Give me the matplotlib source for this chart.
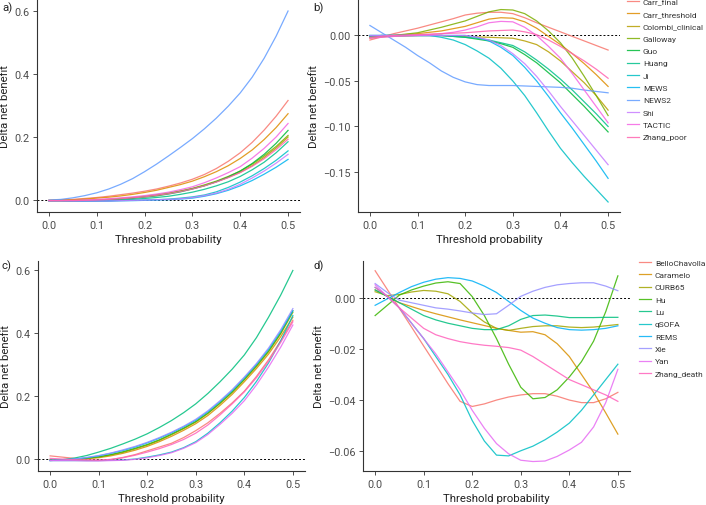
import matplotlib
matplotlib.use("Agg")
import matplotlib.pyplot as plt
from matplotlib.lines import Line2D
from matplotlib import font_manager

plt.rcParams['font.family'] = ['Roboto', 'DejaVu Sans']

thresholds = [0.0, 0.025, 0.05, 0.075, 0.1, 0.125, 0.15, 0.175, 0.2, 0.225, 0.25,
              0.275, 0.3, 0.325, 0.35, 0.375, 0.4, 0.425, 0.45, 0.475, 0.5]

# ---------- panels a / b (12 models) ----------
models_ab = ["Carr_final", "Carr_threshold", "Colombi_clinical", "Galloway", "Guo", "Huang",
             "Ji", "MEWS", "NEWS2", "Shi", "TACTIC", "Zhang_poor"]
colors_ab = ["#F8766D", "#DE8C00", "#B79F00", "#7CAE00", "#00BA38", "#00C08B",
             "#00BFC4", "#00B4F0", "#619CFF", "#C77CFF", "#F564E3", "#FF64B0"]

a_Carr_final       = [0, .001, .002, .005, .008, .012, .017, .022, .028, .035, .044, .054, .066, .081, .100, .123, .150, .183, .222, .266, .316]
a_Carr_threshold   = [-.001, 0, .001, .003, .006, .009, .013, .018, .024, .031, .040, .049, .060, .074, .090, .109, .132, .159, .192, .230, .274]
a_Colombi_clinical = [-.002, -.002, -.002, -.001, 0, .002, .004, .007, .011, .015, .021, .028, .036, .046, .058, .072, .088, .109, .135, .165, .200]
a_Galloway         = [-.002, -.002, -.002, -.001, 0, .002, .005, .008, .012, .017, .022, .029, .037, .048, .060, .075, .092, .114, .140, .170, .205]
a_Guo              = [-.002, -.002, -.003, -.003, -.002, 0, .002, .005, .009, .013, .019, .026, .035, .045, .058, .073, .092, .116, .145, .180, .221]
a_Huang            = [-.002, -.002, -.003, -.003, -.003, -.002, 0, .002, .005, .008, .012, .018, .025, .034, .045, .058, .075, .096, .120, .150, .185]
a_Ji               = [-.002, -.002, -.003, -.003, -.003, -.003, -.002, -.001, 0, .001, .003, .006, .010, .016, .026, .040, .057, .077, .100, .126, .156]
a_MEWS             = [-.002, -.002, -.003, -.003, -.003, -.003, -.002, -.002, -.001, 0, .001, .003, .006, .012, .020, .031, .045, .062, .082, .104, .129]
a_NEWS2            = [0, .002, .007, .014, .023, .035, .050, .068, .090, .114, .140, .167, .195, .226, .260, .298, .340, .390, .450, .520, .600]
a_Shi              = [-.002, -.002, -.003, -.003, -.003, -.003, -.002, -.001, 0, .001, .002, .004, .008, .014, .022, .034, .050, .070, .092, .117, .145]
a_TACTIC           = [-.002, -.002, -.001, 0, .002, .004, .007, .010, .014, .019, .025, .033, .042, .055, .070, .087, .106, .133, .164, .200, .243]
a_Zhang_poor       = [-.002, -.002, -.002, -.001, 0, .002, .004, .007, .010, .015, .020, .027, .035, .045, .057, .071, .087, .107, .131, .160, .193]

b_Carr_final       = [-.005, -.0015, .002, .005, .008, .0115, .015, .0185, .0225, .0245, .0255, .0255, .024, .0195, .014, .009, .004, -.001, -.006, -.011, -.016]
b_Carr_threshold   = [-.003, -.0015, 0, .001, .002, .0035, .005, .0075, .010, .014, .018, .0195, .019, .015, .008, -.001, -.010, -.020, -.031, -.043, -.056]
b_Colombi_clinical = [-.002, -.0015, -.001, -.0005, 0, 0, 0, -.0005, -.001, -.0015, -.002, -.0025, -.003, -.006, -.010, -.018, -.028, -.040, -.052, -.066, -.082]
b_Galloway         = [-.002, -.001, 0, .0015, .003, .006, .009, .0125, .016, .021, .026, .0285, .028, .024, .016, .005, -.008, -.025, -.045, -.066, -.088]
b_Guo              = [-.001, 0, 0, 0, 0, 0, 0, -.001, -.002, -.004, -.006, -.009, -.013, -.021, -.030, -.041, -.052, -.065, -.078, -.092, -.106]
b_Huang            = [-.001, 0, 0, 0, 0, 0, 0, -.001, -.002, -.003, -.005, -.008, -.011, -.018, -.027, -.037, -.048, -.060, -.073, -.086, -.100]
b_Ji               = [0, 0, 0, 0, 0, 0, -.002, -.005, -.010, -.017, -.025, -.036, -.050, -.066, -.085, -.105, -.124, -.140, -.155, -.169, -.183]
b_MEWS             = [0, 0, 0, 0, 0, 0, 0, 0, 0, -.002, -.006, -.013, -.022, -.035, -.050, -.067, -.085, -.102, -.120, -.138, -.157]
b_NEWS2            = [.011, .003, -.005, -.013, -.022, -.030, -.039, -.046, -.051, -.054, -.055, -.055, -.055, -.0555, -.056, -.0565, -.057, -.058, -.060, -.0615, -.063]
b_Shi              = [0, 0, 0, 0, 0, 0, 0, 0, 0, -.002, -.005, -.011, -.020, -.031, -.045, -.061, -.078, -.094, -.110, -.126, -.142]
b_TACTIC           = [-.003, -.002, -.001, -.0005, 0, .001, .002, .0035, .006, .0095, .014, .0155, .015, .009, 0, -.012, -.025, -.042, -.060, -.078, -.096]
b_Zhang_poor       = [-.002, -.001, 0, .0005, .001, .0015, .002, .0025, .003, .004, .005, .0055, .006, .004, .001, -.005, -.012, -.020, -.028, -.037, -.047]

data_a = [a_Carr_final, a_Carr_threshold, a_Colombi_clinical, a_Galloway, a_Guo, a_Huang,
          a_Ji, a_MEWS, a_NEWS2, a_Shi, a_TACTIC, a_Zhang_poor]
data_b = [b_Carr_final, b_Carr_threshold, b_Colombi_clinical, b_Galloway, b_Guo, b_Huang,
          b_Ji, b_MEWS, b_NEWS2, b_Shi, b_TACTIC, b_Zhang_poor]

# ---------- panels c / d (10 models) ----------
models_cd = ["BelloChavolla", "Caramelo", "CURB65", "Hu", "Lu", "qSOFA", "REMS", "Xie", "Yan", "Zhang_death"]
colors_cd = ["#F8766D", "#D89000", "#A3A500", "#39B600", "#00BF7D",
             "#00BFC4", "#00B0F6", "#9590FF", "#E76BF3", "#FF62BC"]

c_BelloChavolla = [.010, .006, .002, -.002, -.004, -.002, .005, .014, .026, .038, .050, .068, .090, .115, .145, .178, .215, .262, .315, .375, .440]
c_Caramelo      = [-.003, -.003, -.002, .001, .004, .010, .018, .028, .040, .055, .072, .091, .112, .138, .170, .205, .245, .287, .333, .388, .450]
c_CURB65        = [-.003, -.002, -.001, .002, .006, .013, .021, .032, .044, .059, .077, .096, .117, .144, .176, .211, .251, .293, .340, .397, .465]
c_Hu            = [-.004, -.003, -.001, .003, .007, .014, .023, .034, .046, .061, .079, .098, .119, .146, .178, .213, .253, .296, .343, .400, .470]
c_Lu            = [-.005, -.002, .003, .011, .022, .034, .048, .063, .080, .100, .122, .147, .175, .208, .245, .285, .330, .385, .450, .520, .598]
c_qSOFA         = [-.005, -.005, -.005, -.005, -.005, -.004, -.003, .000, .006, .013, .022, .036, .055, .082, .115, .152, .195, .246, .305, .375, .455]
c_REMS          = [-.004, -.003, 0, .004, .010, .018, .027, .038, .051, .066, .083, .102, .123, .150, .182, .217, .257, .300, .348, .405, .470]
c_Xie           = [-.004, -.003, 0, .005, .011, .019, .029, .040, .053, .068, .085, .104, .126, .153, .185, .220, .260, .303, .352, .410, .477]
c_Yan           = [-.005, -.005, -.005, -.006, -.006, -.005, -.004, -.001, .004, .011, .020, .034, .052, .078, .110, .145, .185, .235, .292, .355, .425]
c_Zhang_death   = [.002, 0, -.002, -.003, -.004, -.001, .004, .012, .022, .033, .046, .062, .082, .108, .140, .175, .213, .258, .310, .370, .435]

d_BelloChavolla = [.0105, .0032, -.0042, -.0115, -.0189, -.0262, -.0336, -.0405, -.0425, -.0415, -.0400, -.0388, -.0380, -.0375, -.0375, -.0385, -.0400, -.0410, -.0410, -.0395, -.0370]
d_Caramelo      = [.003, .0005, -.002, -.0035, -.005, -.0063, -.0075, -.0087, -.0098, -.0109, -.012, -.0128, -.0135, -.0133, -.0145, -.018, -.023, -.030, -.037, -.045, -.0533]
d_CURB65        = [.0023, .0008, .0012, .0022, .0028, .0025, .0015, -.0015, -.006, -.0095, -.012, -.0128, -.012, -.0113, -.011, -.011, -.0115, -.0117, -.0115, -.011, -.0105]
d_Hu            = [-.007, -.003, .001, .003, .0045, .0057, .0062, .0055, .0004, -.007, -.016, -.026, -.035, -.0395, -.039, -.036, -.031, -.025, -.017, -.0055, .0085]
d_Lu            = [.003, .0005, -.002, -.0045, -.007, -.0087, -.010, -.011, -.012, -.0125, -.0125, -.011, -.0085, -.007, -.0068, -.0072, -.0078, -.0078, -.0078, -.0077, -.0077]
d_qSOFA         = [.004, .0005, -.004, -.010, -.016, -.023, -.030, -.038, -.048, -.056, -.0615, -.0618, -.0598, -.058, -.0555, -.0525, -.049, -.044, -.038, -.032, -.026]
d_REMS          = [-.003, -.0005, .002, .0043, .006, .0072, .0078, .0075, .0065, .0045, .002, -.0015, -.005, -.008, -.010, -.0117, -.0125, -.0127, -.0125, -.012, -.011]
d_Xie           = [.0055, .002, -.001, -.002, -.003, -.004, -.0045, -.0052, -.006, -.0066, -.0063, -.003, .0005, .0025, .004, .005, .0055, .0058, .0058, .0045, .0027]
d_Yan           = [.005, .0005, -.004, -.010, -.016, -.022, -.029, -.036, -.044, -.051, -.057, -.061, -.0635, -.064, -.0638, -.062, -.0595, -.0565, -.0505, -.041, -.028]
d_Zhang_death   = [.004, .0005, -.004, -.008, -.012, -.0145, -.016, -.0172, -.018, -.0186, -.019, -.0195, -.0205, -.023, -.026, -.029, -.032, -.034, -.036, -.038, -.0405]

data_c = [c_BelloChavolla, c_Caramelo, c_CURB65, c_Hu, c_Lu, c_qSOFA, c_REMS, c_Xie, c_Yan, c_Zhang_death]
data_d = [d_BelloChavolla, d_Caramelo, d_CURB65, d_Hu, d_Lu, d_qSOFA, d_REMS, d_Xie, d_Yan, d_Zhang_death]

x_ticks = [0.0, 0.1, 0.2, 0.3, 0.4, 0.5]

fig = plt.figure(figsize=(7.06, 5.06), dpi=100)

W, H = 706.0, 506.0
def box(l, t, r, b):
    return [l / W, 1 - b / H, (r - l) / W, (b - t) / H]

ax_a = fig.add_axes(box(37, 1, 300, 213))
ax_b = fig.add_axes(box(358, 1, 620, 213))
ax_c = fig.add_axes(box(38, 262, 305, 472))
ax_d = fig.add_axes(box(363, 262, 630, 472))

grey = "#4D4D4D"
LW = 0.9
ALPHA = 0.85
FS = 7.8

def style(ax, yticks, yfmt, ylim):
    ax.axhline(0, color="black", lw=0.7, ls=(0, (2, 2)), zorder=1)
    ax.set_xlim(-0.025, 0.525)
    ax.set_ylim(*ylim)
    ax.set_xticks(x_ticks)
    ax.set_xticklabels([f"{v:.1f}" for v in x_ticks])
    ax.set_yticks(yticks)
    ax.set_yticklabels([yfmt.format(v).replace("-", "\u2212") for v in yticks])
    for s in ["top", "right"]:
        ax.spines[s].set_visible(False)
    for s in ["left", "bottom"]:
        ax.spines[s].set_color("#333333")
        ax.spines[s].set_linewidth(0.8)
    ax.tick_params(colors="#333333", labelcolor=grey, labelsize=FS, length=3, width=0.6, pad=2.5)
    ax.set_xlabel("Threshold probability", fontsize=FS + 0.4, color="#222222", labelpad=3)
    ax.set_ylabel("Delta net benefit", fontsize=FS + 0.4, color="#222222", labelpad=3)

for ax, data, cols in [(ax_a, data_a, colors_ab), (ax_b, data_b, colors_ab),
                       (ax_c, data_c, colors_cd), (ax_d, data_d, colors_cd)]:
    for vals, col in zip(data, cols):
        ax.plot(thresholds, vals, color=col, lw=LW, alpha=ALPHA, zorder=2)

style(ax_a, [0.0, 0.2, 0.4, 0.6], "{:.1f}", (-0.038, 0.635))
style(ax_b, [0.0, -0.05, -0.10, -0.15], "{:.2f}", (-0.194, 0.039))
style(ax_c, [0.0, 0.2, 0.4, 0.6], "{:.1f}", (-0.038, 0.628))
style(ax_d, [0.0, -0.02, -0.04, -0.06], "{:.2f}", (-0.0677, 0.0143))

for txt, x, y in [("a)", 2, 8), ("b)", 313, 8), ("c)", 2, 266), ("d)", 313, 266)]:
    fig.text(x / W, 1 - y / H, txt, fontsize=FS + 0.4, color="#222222", va="center", ha="left")

# legend font: a narrow face if installed, otherwise a small Roboto
installed = {f.name for f in font_manager.fontManager.ttflist}
if "Liberation Sans Narrow" in installed:
    leg_family, leg_size, leg_space = "Liberation Sans Narrow", 7.0, 0.5
else:
    leg_family, leg_size, leg_space = "Roboto", 6.0, 0.66

def legend(models, cols, x, y):
    handles = [Line2D([0], [0], color=c, lw=LW, alpha=ALPHA) for c in cols]
    fig.legend(handles, models, loc="upper left", bbox_to_anchor=(x / W, 1 - y / H),
               frameon=False, prop={"family": leg_family, "size": leg_size},
               handlelength=1.45, handletextpad=0.45,
               labelspacing=leg_space, borderaxespad=0, borderpad=0, labelcolor="#333333")

legend(models_ab, colors_ab, 627, -1)
legend(models_cd, colors_cd, 639, 260)

fig.savefig("out.png", dpi=100)
